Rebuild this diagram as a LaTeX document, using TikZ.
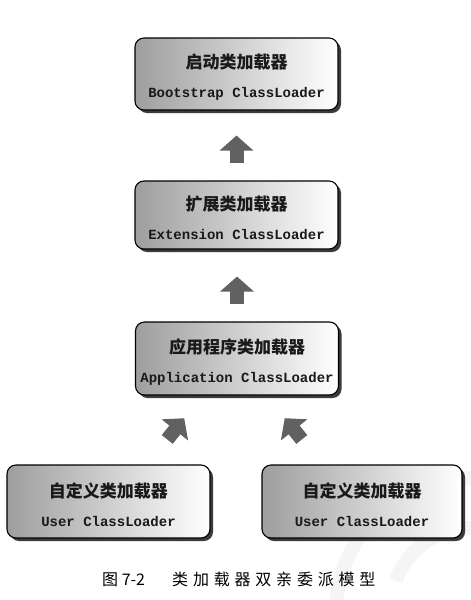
\documentclass[tikz,border=0pt]{standalone}
\usepackage{fontspec}
\setmonofont{Liberation Mono}
\newfontfamily\cjk{Noto Sans CJK SC}
\usetikzlibrary{arrows.meta,shadows,calc}

% two-line label: Chinese name above, class name below
\newcommand\loaderlabel[2]{%
  {\cjk\bfseries\fontsize{17}{29}\selectfont\rule{0pt}{21pt}#1}\\
  {\ttfamily\bfseries\fontsize{14}{29}\selectfont #2}}

\tikzset{
  loader/.style={draw=black, line width=1.1pt, rounded corners=9pt,
    left color=black!38, right color=white,
    minimum width=203pt, minimum height=72pt, inner sep=0pt,
    align=center, text=black!90,
    font=\fontsize{14}{29}\selectfont,
    drop shadow={shadow xshift=3pt, shadow yshift=-3pt,
      fill=black!85, opacity=0.9}},
  blockarrow/.style={draw=black!62, line width=14pt,
    -{Triangle[length=15pt,width=33pt]}},
  captiontext/.style={inner sep=0pt, text=black,
    font=\cjk\fontsize{16}{18}\selectfont}
}

\begin{document}
\begin{tikzpicture}[x=1pt, y=-1pt]
  \useasboundingbox (0,0) rectangle (471,600);

  % faint watermark in the lower right corner
  \begin{scope}[black!4, line width=14pt]
    \draw (471,478) arc[start angle=270, end angle=180, radius=135];
    \draw (471,528) arc[start angle=270, end angle=200, radius=80];
  \end{scope}

  % class loader boxes
  \node[loader] (boot) at (236.5,74)
    {\loaderlabel{启动类加载器}{Bootstrap ClassLoader}};
  \node[loader, minimum height=68pt] (ext) at (236.5,215)
    {\loaderlabel{扩展类加载器}{Extension ClassLoader}};
  \node[loader, minimum height=73pt] (app) at (237,358.5)
    {\loaderlabel{应用程序类加载器}{Application ClassLoader}};
  \node[loader, minimum height=73pt] (user1) at (108.5,501.5)
    {\loaderlabel{自定义类加载器}{User ClassLoader}};
  \node[loader, minimum height=73pt, minimum width=200pt] (user2) at (362,501.5)
    {\loaderlabel{自定义类加载器}{User ClassLoader}};

  % delegation arrows (child to parent)
  \draw[blockarrow, shorten <=17pt, shorten >=25pt]
    (ext.north) -- (ext.north |- boot.south);
  \draw[blockarrow, shorten <=17pt, shorten >=27pt]
    (app.north) -- (app.north |- ext.south);
  \draw[blockarrow, shorten <=32pt, shorten >=29pt]
    ($(user1.north west)!0.69!(user1.north east)$) --
    ($(app.south west)!0.33!(app.south east)$);
  \draw[blockarrow, shorten <=32pt, shorten >=29pt]
    ($(user2.north west)!0.3!(user2.north east)$) --
    ($(app.south west)!0.645!(app.south east)$);

  % figure caption
  \node[captiontext, anchor=base west] (fignum) at (102,585) {图 7-2};
  \node[captiontext, anchor=base west] (figtitle) at (172,585)
    {类\kern4.8pt 加\kern4.8pt 载\kern4.8pt 器\kern4.8pt 双\kern4.8pt
     亲\kern4.8pt 委\kern4.8pt 派\kern4.8pt 模\kern4.8pt 型};
\end{tikzpicture}
\end{document}
